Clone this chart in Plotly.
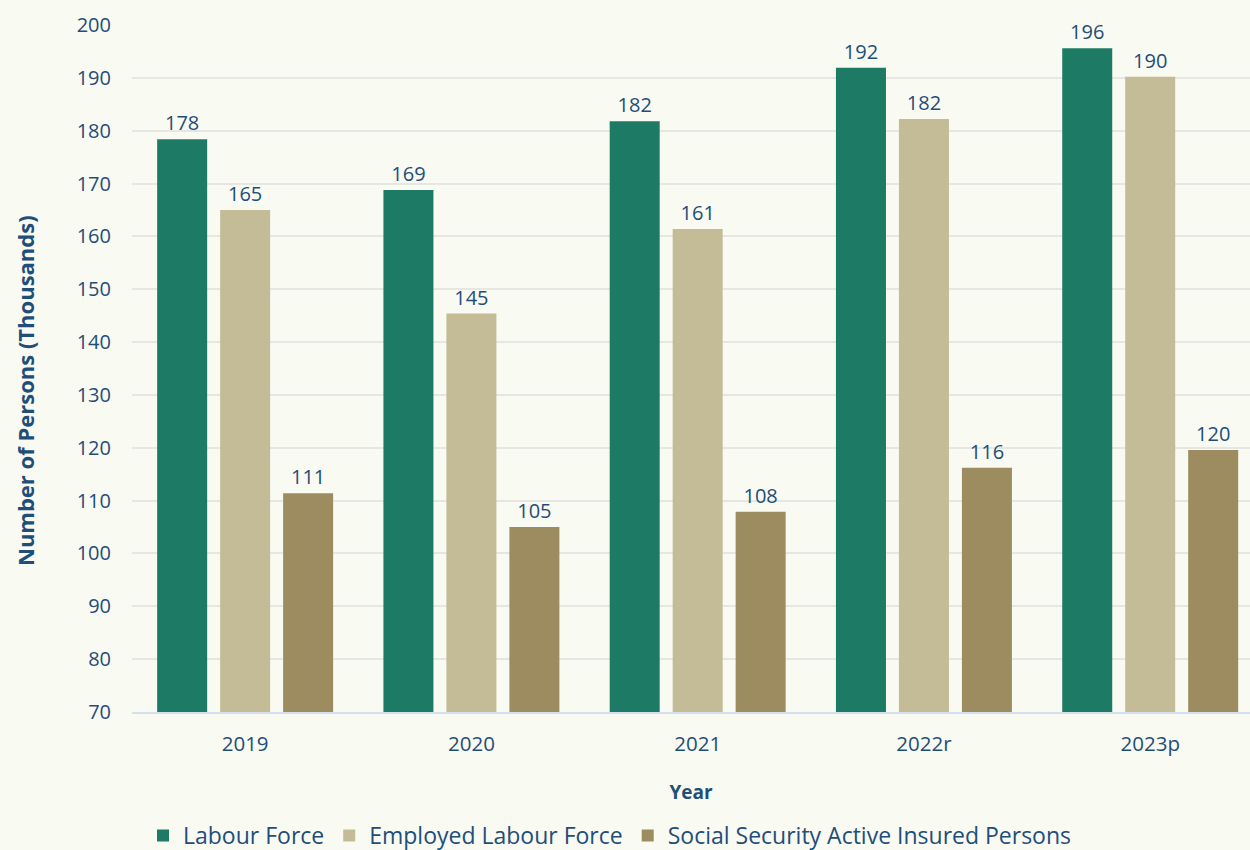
import plotly.graph_objects as go

years = ["2019", "2020", "2021", "2022r", "2023p"]
labour_force = [178.4, 168.8, 181.8, 191.9, 195.6]
employed = [165.0, 145.4, 161.4, 182.2, 190.2]
social_security = [111.4, 105.0, 107.9, 116.2, 119.6]

series = [
    ("Labour Force", labour_force, "#1D7B65"),
    ("Employed Labour Force", employed, "#C4BC97"),
    ("Social Security Active Insured Persons", social_security, "#9C8C60"),
]

txt = "#1F4E79"
font = "Open Sans"

fig = go.Figure()
for name, vals, col in series:
    fig.add_trace(go.Bar(
        x=years, y=vals, name=name, marker_color=col,
        marker_line_width=0,
        text=[f"{v:.0f}" for v in vals], textposition="outside",
        textfont=dict(size=20, color=txt, family=font),
        cliponaxis=False,
    ))

fig.update_layout(
    width=1250, height=850,
    paper_bgcolor="#F9FAF2", plot_bgcolor="#F9FAF2",
    margin=dict(l=132, r=0, t=25, b=138, autoexpand=False),
    barmode="group", bargap=0.165, bargroupgap=0.206,
    font=dict(family=font, color=txt),
    showlegend=True,
    legend=dict(orientation="h", xref="container", x=0.488, xanchor="center",
                yref="container", y=0.017, yanchor="middle",
                font=dict(size=23, color=txt, family=font), traceorder="normal"),
    annotations=[dict(
        text="<b>Number of Persons (Thousands)</b>", textangle=-90,
        xref="paper", x=-(132 - 25) / 1118, xanchor="center",
        yref="paper", y=(712 - 391) / 687, yanchor="middle",
        showarrow=False, font=dict(size=22, color=txt, family=font),
    )],
)
fig.update_xaxes(
    range=[-0.5, 4.441], showgrid=False, showline=True, linecolor="#D6DFEE", linewidth=2,
    tickfont=dict(size=20.5, color=txt, family=font), ticks="", ticklabelstandoff=12,
    automargin=False,
    title=dict(text="<b>Year</b>", font=dict(size=19, color=txt, family=font), standoff=30),
)
fig.update_yaxes(
    range=[70, 200], dtick=10, showgrid=True, gridcolor="#E6E6E3", gridwidth=2,
    zeroline=False, showline=False, automargin=False,
    tickfont=dict(size=20, color=txt, family=font), ticklabelstandoff=20,
)

fig.write_html(
    "out.html",
    config={"displayModeBar": False},
    post_script="document.body.style.margin='0';document.body.style.overflow='hidden';document.body.style.background='#F9FAF2';",
)
